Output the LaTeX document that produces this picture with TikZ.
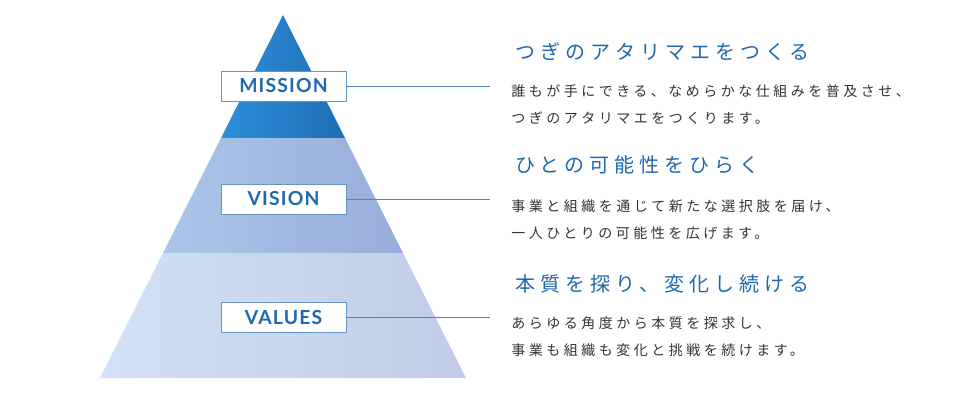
\documentclass[tikz,border=0pt]{standalone}
\usepackage{fontspec}
\setmainfont{Noto Sans CJK JP}
\newfontfamily\lab{Lato}[LetterSpace=6]
\newfontfamily\jp{Noto Sans CJK JP}[LetterSpace=25]
\definecolor{hblue}{HTML}{2068AE}
\definecolor{txt}{HTML}{333333}
\definecolor{t1l}{HTML}{2E8FD9}
\definecolor{t1r}{HTML}{1E6DB5}
\definecolor{t2l}{HTML}{AAC6EA}
\definecolor{t2r}{HTML}{98ADD8}
\definecolor{t3l}{HTML}{D0E2F4}
\definecolor{t3r}{HTML}{C3CBE6}
\begin{document}
\begin{tikzpicture}[x=0.75pt,y=-0.75pt,
  lbl/.style={draw=hblue!70,fill=white,line width=0.6pt,minimum width=93.75pt,minimum height=22.5pt,font=\lab\bfseries\fontsize{14.5}{14.5}\selectfont,text=hblue,inner sep=0pt},
  head/.style={anchor=west,text=hblue,font=\jp\fontsize{15}{15}\selectfont,inner sep=0pt},
  body/.style={anchor=west,text=txt,font=\jp\fontsize{10.5}{20.5}\selectfont,align=left,inner sep=0pt},
  conn/.style={draw=hblue!80,line width=0.5pt}]
\useasboundingbox (0,0) rectangle (980,400);
\shade[left color=t1l,right color=t1r] (283,15) -- (345,138) -- (221,138) -- cycle;
\shade[left color=t2l,right color=t2r] (221,138) -- (345,138) -- (403,253) -- (163,253) -- cycle;
\shade[left color=t3l,right color=t3r] (163,253) -- (403,253) -- (466,378) -- (100,378) -- cycle;
\node[lbl] (m) at (283.5,86) {MISSION};
\node[lbl] (v) at (283.5,199) {VISION};
\node[lbl] (va) at (283.5,317.5) {VALUES};
\coordinate (mE) at (490,86);
\coordinate (vE) at (490,199);
\coordinate (vaE) at (490,317.5);
\draw[conn] (m.east) -- (mE);
\draw[conn] (v.east) -- (vE);
\draw[conn] (va.east) -- (vaE);
\node[head] (h1) at (515,52) {つぎのアタリマエをつくる};
\node[body] (b1) at (511,104.5) {誰もが手にできる、なめらかな仕組みを普及させ、\\つぎのアタリマエをつくります。};
\node[head] (h2) at (515,165) {ひとの可能性をひらく};
\node[body] (b2) at (511,219.5) {事業と組織を通じて新たな選択肢を届け、\\一人ひとりの可能性を広げます。};
\node[head] (h3) at (515,284) {本質を探り、変化し続ける};
\node[body] (b3) at (511,337) {あらゆる角度から本質を探求し、\\事業も組織も変化と挑戦を続けます。};
\end{tikzpicture}
\end{document}
